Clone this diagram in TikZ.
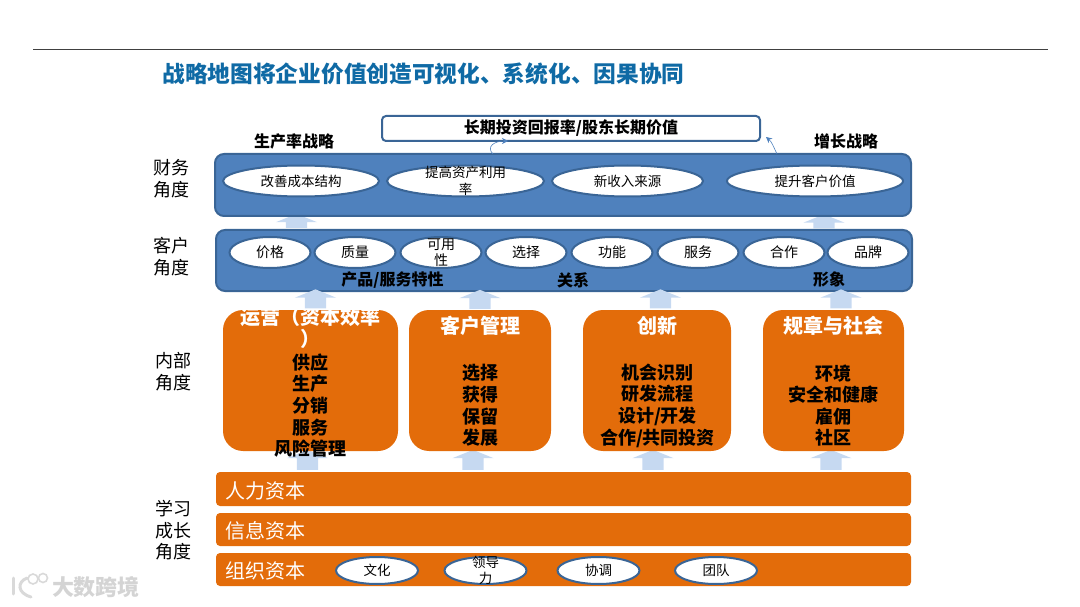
\documentclass[tikz,border=0pt]{standalone}
\usepackage{fontspec}
\setmainfont{Noto Sans CJK SC}
\usetikzlibrary{arrows.meta,shapes.geometric,shapes.arrows}
\definecolor{blockblue}{HTML}{4F81BD}
\definecolor{edgeblue}{HTML}{3A6596}
\definecolor{titleblue}{HTML}{0F6AA5}
\definecolor{paleblue}{HTML}{C6D9F1}
\definecolor{burnt}{HTML}{E36C0A}
\newcommand{\px}[2]{\fontsize{#1}{#2}\selectfont}
\tikzset{
    band/.style={draw=edgeblue, line width=2pt, fill=blockblue, rounded corners=9pt, inner sep=0pt},
    bar/.style={fill=burnt, rounded corners=4pt, inner sep=0pt},
    card/.style={fill=burnt, rounded corners=20pt, inner sep=0pt},
    oval/.style={ellipse, draw=edgeblue, line width=2pt, fill=white, inner sep=0pt, font=\px{13.5}{16}},
    ovaltext/.style={inner sep=0pt, align=center, font=\px{13.5}{16.5}},
    upblock/.style={single arrow, rotate=90, fill=paleblue, inner xsep=0pt, inner ysep=10.5pt,
        single arrow head extend=10pt, single arrow tip angle=136},
    side/.style={inner sep=0pt, align=center, font=\px{18}{21.5}},
    strong/.style={inner sep=0pt, align=center, font=\px{16}{18}\bfseries},
    cardhead/.style={inner sep=0pt, text=white, align=center, font=\px{20}{22}\bfseries},
    cardtext/.style={inner sep=0pt, align=center, font=\px{18}{21.6}\bfseries},
    bartext/.style={inner sep=0pt, anchor=west, text=white, font=\px{20}{22}},
    thinlink/.style={draw=blockblue, line width=0.6pt, -{Stealth[length=6pt,width=6pt]}}
}
\begin{document}
\begin{tikzpicture}[x=1pt,y=-1pt]
    \useasboundingbox (0,0) rectangle (1080,607);

    % Header
    \coordinate (ruleleft) at (33,49);
    \coordinate (ruleright) at (1048,49);
    \draw[line width=0.8pt, black!75] (ruleleft) -- (ruleright);
    \node[inner sep=0pt, text=titleblue, font=\px{22.7}{26}\bfseries] (title) at (423.5,73.5) {战略地图将企业价值创造可视化、系统化、因果协同};

    % Arrows under the capital bars
    \node[upblock, minimum height=20pt] (uparrowa) at (307.5,462) {};
    \node[upblock, minimum height=20pt] (uparrowb) at (473,462) {};
    \node[upblock, minimum height=20pt] (uparrowc) at (653,462) {};
    \node[upblock, minimum height=20pt] (uparrowd) at (831,462) {};

    % Top box and strategies
    \node[draw=edgeblue, line width=2pt, fill=white, rounded corners=4pt, minimum width=378pt, minimum height=25pt, inner sep=0pt] (roibox) at (571,128.5) {};
    \node[strong] (roitext) at (571,128.5) {长期投资回报率/股东长期价值};
    \node[strong] (prodlabel) at (294,141.5) {生产率战略};
    \node[strong] (growlabel) at (846,141.5) {增长战略};

    % Financial band
    \node[upblock, minimum height=14pt] (finarrowa) at (296.5,223) {};
    \node[upblock, minimum height=14pt] (finarrowb) at (824,223.5) {};
    \node[band, minimum width=696pt, minimum height=62pt] (finband) at (563,185) {};
    \node[oval, minimum width=156pt, minimum height=31pt] (costoval) at (301,181) {改善成本结构};
    \node[oval, minimum width=157pt, minimum height=31pt] (assetoval) at (465.5,181) {};
    \node[ovaltext] (assettext) at (assetoval) {提高资产利用\\率};
    \node[oval, minimum width=151pt, minimum height=31pt] (incomeoval) at (627.5,181) {新收入来源};
    \node[oval, minimum width=176pt, minimum height=31pt] (valueoval) at (815,181) {提升客户价值};

    % Links to the top box
    \coordinate (linkastart) at (493,154);
    \coordinate (linkaend) at (508,141);
    \coordinate (linkbstart) at (777,154);
    \coordinate (linkbend) at (766,137);
    \draw[thinlink] (linkastart) .. controls (486,147) and (494,141) .. (linkaend);
    \draw[thinlink] (linkbstart) .. controls (774,148) and (772,142) .. (linkbend);

    % Customer band
    \node[band, minimum width=696pt, minimum height=61pt] (cusband) at (564,260.5) {};
    \node[oval, minimum width=81pt, minimum height=31pt] (priceoval) at (270,252.5) {\px{14}{16}价格};
    \node[oval, minimum width=81pt, minimum height=31pt] (qualoval) at (355,252.5) {\px{14}{16}质量};
    \node[oval, minimum width=81pt, minimum height=31pt] (usableoval) at (441,252.5) {};
    \node[ovaltext, font=\px{14}{16.5}] (usabletext) at (usableoval) {可用\\性};
    \node[oval, minimum width=81pt, minimum height=31pt] (pickoval) at (526,252.5) {\px{14}{16}选择};
    \node[oval, minimum width=81pt, minimum height=31pt] (funcoval) at (612,252.5) {\px{14}{16}功能};
    \node[oval, minimum width=81pt, minimum height=31pt] (servoval) at (698,252.5) {\px{14}{16}服务};
    \node[oval, minimum width=81pt, minimum height=31pt] (partoval) at (784,252.5) {\px{14}{16}合作};
    \node[oval, minimum width=81pt, minimum height=31pt] (brandoval) at (868,252.5) {\px{14}{16}品牌};
    \node[strong] (prodsvc) at (392.5,280.5) {产品/服务特性};
    \node[strong] (relation) at (573,280.5) {关系};
    \node[strong] (image) at (829,279.5) {形象};

    % Internal cards
    \node[card, minimum width=175pt, minimum height=141pt] (opscard) at (310.5,380.5) {};
    \node[card, minimum width=142pt, minimum height=141pt] (custcard) at (480,380.5) {};
    \node[card, minimum width=148pt, minimum height=141pt] (innocard) at (657,380.5) {};
    \node[card, minimum width=141pt, minimum height=141pt] (rulecard) at (833.5,380.5) {};
    \node[cardhead] (opshead) at (310,328) {运营（资本效率\\）};
    \node[cardtext] (opstext) at (310,405.5) {供应\\生产\\分销\\服务\\风险管理};
    \node[cardhead] (custhead) at (480,325.5) {客户管理};
    \node[cardtext] (custtext) at (480,405.5) {选择\\获得\\保留\\发展};
    \node[cardhead] (innohead) at (657,325.5) {创新};
    \node[cardtext] (innotext) at (657.5,405.5) {机会识别\\研发流程\\设计/开发\\合作/共同投资};
    \node[cardhead] (rulehead) at (833,325.5) {规章与社会};
    \node[cardtext] (ruletext) at (833,405.5) {环境\\安全和健康\\雇佣\\社区};

    % Arrows over the cards
    \node[upblock, minimum height=19pt] (cardarrowa) at (315.5,301) {};
    \node[upblock, minimum height=19pt] (cardarrowb) at (480,301.5) {};
    \node[upblock, minimum height=19pt] (cardarrowc) at (660.5,301) {};
    \node[upblock, minimum height=19pt] (cardarrowd) at (841,301) {};

    % Capital bars
    \node[bar, minimum width=695pt, minimum height=34pt] (humanbar) at (563.5,489) {};
    \node[bar, minimum width=695pt, minimum height=33pt] (infobar) at (563.5,529.5) {};
    \node[bar, minimum width=695pt, minimum height=33pt] (orgbar) at (563.5,569.5) {};
    \node[bartext] (humantext) at (225,490.5) {人力资本};
    \node[bartext] (infotext) at (225,530.5) {信息资本};
    \node[bartext] (orgtext) at (225,570.5) {组织资本};
    \node[oval, minimum width=82pt, minimum height=27pt] (cultoval) at (377,570.5) {文化};
    \node[oval, minimum width=82pt, minimum height=27pt] (leadoval) at (485.5,570.5) {};
    \node[ovaltext] (leadtext) at (leadoval) {领导\\力};
    \node[oval, minimum width=82pt, minimum height=27pt] (cordoval) at (598.5,570.5) {协调};
    \node[oval, minimum width=82pt, minimum height=27pt] (teamoval) at (716,570.5) {团队};

    % Side labels
    \node[side] (finside) at (171,178.5) {财务\\角度};
    \node[side] (cusside) at (171,256.5) {客户\\角度};
    \node[side] (inside) at (173,371.5) {内部\\角度};
    \node[side] (learnside) at (173,530.5) {学习\\成长\\角度};

    % Watermark
    \draw[line width=3pt, black!15, line cap=round] (13,578) -- (13,594);
    \draw[line width=3pt, black!15, line cap=round] (27,578) .. controls (17,582) and (17,593) .. (31,597);
    \draw[line width=1.6pt, black!15] (33,579) circle (5);
    \draw[line width=1.6pt, black!15] (43,578) circle (4.5);
    \node[inner sep=0pt, text=black!17, font=\px{22}{24}\bfseries] (mark) at (96,587) {大数跨境};
\end{tikzpicture}
\end{document}
